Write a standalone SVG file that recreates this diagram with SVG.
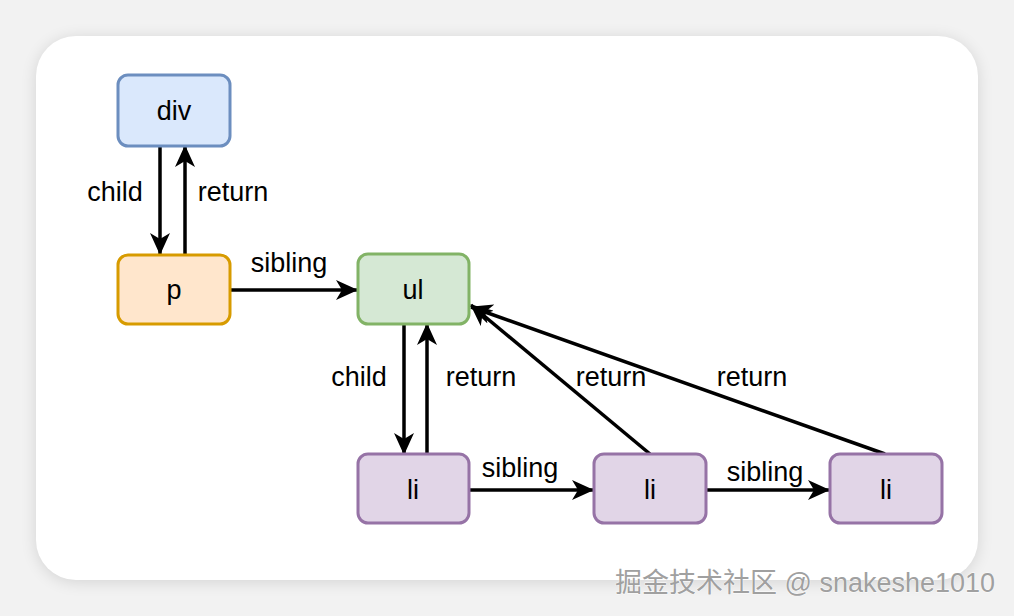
<svg xmlns="http://www.w3.org/2000/svg" width="1014" height="616" viewBox="0 0 1014 616">
<defs>
<filter id="sh" x="-10%" y="-10%" width="120%" height="120%">
<feGaussianBlur stdDeviation="8"/>
</filter>
<marker id="ah" viewBox="0 0 22 20" refX="21" refY="10" markerWidth="22" markerHeight="20" markerUnits="userSpaceOnUse" orient="auto">
<path d="M0,0 L22,10 L0,20 L6,10 Z" fill="#000"/>
</marker>
</defs>
<style>
.n{stroke-width:3}
.t{font-family:"Liberation Sans",Arial,sans-serif;font-size:27px;fill:#000;text-anchor:middle}
.e{stroke:#000;stroke-width:3.5;fill:none;marker-end:url(#ah)}
.wm{font-family:"Liberation Sans","Noto Sans CJK SC",sans-serif;font-size:27px;fill:#a0a0a0;stroke:#fff;stroke-width:0.8;paint-order:stroke}
</style>
<rect width="1014" height="616" fill="#f2f2f2"/>
<rect x="36" y="38" width="942" height="544" rx="40" fill="#000" opacity="0.12" filter="url(#sh)"/>
<rect x="36" y="36" width="942" height="544" rx="40" fill="#fff"/>
<g id="edges">
<line class="e" x1="160" y1="146" x2="160" y2="254"/>
<line class="e" x1="185" y1="254" x2="185" y2="146"/>
<line class="e" x1="230" y1="290" x2="357" y2="290"/>
<line class="e" x1="404" y1="324" x2="404" y2="454"/>
<line class="e" x1="427" y1="454" x2="427" y2="324"/>
<line class="e" x1="650" y1="454" x2="471" y2="305"/>
<line class="e" x1="885" y1="454" x2="471" y2="307"/>
<line class="e" x1="469" y1="490" x2="593" y2="490"/>
<line class="e" x1="706" y1="490" x2="829" y2="490"/>
<text class="t" x="115" y="201">child</text>
<text class="t" x="233" y="201">return</text>
<text class="t" x="289" y="272">sibling</text>
<text class="t" x="359" y="386">child</text>
<text class="t" x="481" y="386">return</text>
<text class="t" x="611" y="386">return</text>
<text class="t" x="752" y="386">return</text>
<text class="t" x="520" y="477">sibling</text>
<text class="t" x="765" y="481">sibling</text>
</g>
<g id="div"><rect class="n" x="118" y="75" width="112" height="71" rx="10" fill="#dae8fc" stroke="#6c8ebf"/><text class="t" x="174" y="120">div</text></g>
<g id="p"><rect class="n" x="118" y="255" width="112" height="69" rx="10" fill="#ffe6cc" stroke="#d79b00"/><text class="t" x="174" y="299">p</text></g>
<g id="ul"><rect class="n" x="358" y="254" width="111" height="70" rx="10" fill="#d5e8d4" stroke="#82b366"/><text class="t" x="413" y="299">ul</text></g>
<g id="li1"><rect class="n" x="358" y="454" width="111" height="69" rx="10" fill="#e1d5e7" stroke="#9673a6"/><text class="t" x="413" y="499">li</text></g>
<g id="li2"><rect class="n" x="594" y="454" width="112" height="69" rx="10" fill="#e1d5e7" stroke="#9673a6"/><text class="t" x="650" y="499">li</text></g>
<g id="li3"><rect class="n" x="830" y="454" width="112" height="69" rx="10" fill="#e1d5e7" stroke="#9673a6"/><text class="t" x="886" y="499">li</text></g>
<text class="wm" x="615" y="592">掘金技术社区 @ snakeshe1010</text>
</svg>
